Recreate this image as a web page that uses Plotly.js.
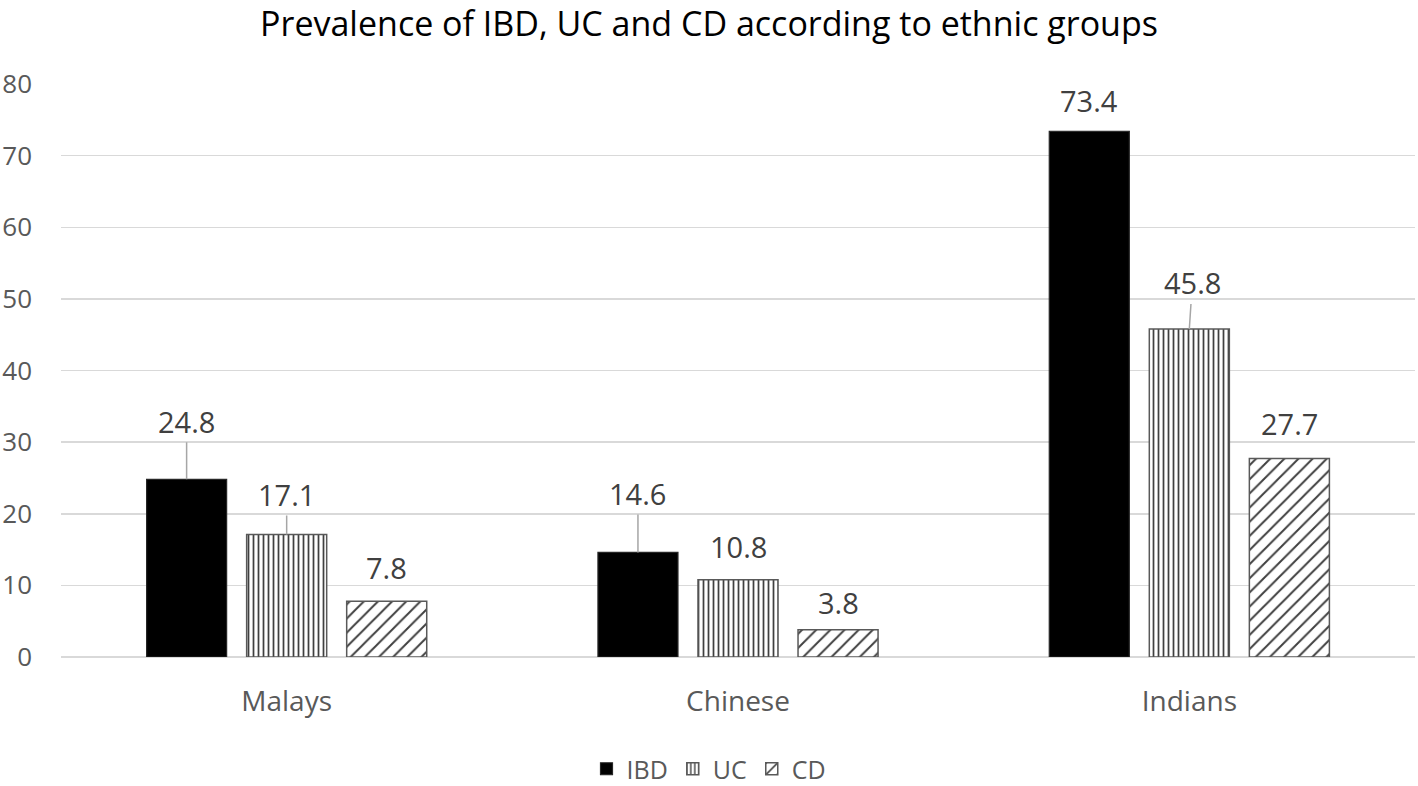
<!DOCTYPE html>
<html>
<head>
<meta charset="utf-8">
<script src="https://cdn.plot.ly/plotly-3.0.1.min.js"></script>
<style>html,body{margin:0;padding:0;background:#fff;}#chart{width:1418px;height:786px;}</style>
</head>
<body>
<div id="chart"></div>
<script>
// ---- data ----
const categories = ['Malays', 'Chinese', 'Indians'];
const seriesNames = ['IBD', 'UC', 'CD'];
const ibdValues = [24.8, 14.6, 73.4];
const ucValues = [17.1, 10.8, 45.8];
const cdValues = [7.8, 3.8, 27.7];
const yTickValues = [0, 10, 20, 30, 40, 50, 60, 70, 80];

// ---- label styling (pixel lift above bar top, leader line on/off) ----
const labelLift = [[58, 59, 31], [40, 33, 46], [34, 27, 35]];
const labelLeader = [[true, true, false], [true, false, true], [false, false, false]];
const labelNudgeX = [[0, 0, 0], [0, 0, 3], [0, 0, 0]];

const bargap = 0.335;
const bargroupgap = 0.2;
const seriesValues = [ibdValues, ucValues, cdValues];

const markers = [
  {color: '#000000', line: {color: '#262626', width: 1.2}},
  {color: '#ffffff', line: {color: '#595959', width: 1.5},
   pattern: {shape: '|', size: 5, solidity: 0.35, fgcolor: '#404040', bgcolor: '#ffffff', fillmode: 'replace'}},
  {color: '#ffffff', line: {color: '#595959', width: 1.5},
   pattern: {shape: '/', size: 10, solidity: 0.2, fgcolor: '#404040', bgcolor: '#ffffff', fillmode: 'replace'}}
];

const traces = seriesNames.map((name, s) => ({
  type: 'bar',
  name: name,
  x: categories,
  y: seriesValues[s],
  marker: markers[s],
  hoverinfo: 'x+y+name'
}));

const slot = (1 - bargap) / seriesNames.length;
const annotations = [];
seriesNames.forEach((name, s) => {
  categories.forEach((c, i) => {
    annotations.push({
      xref: 'x', yref: 'y',
      x: i + (s - (seriesNames.length - 1) / 2) * slot,
      y: seriesValues[s][i],
      text: seriesValues[s][i].toFixed(1),
      showarrow: true,
      arrowhead: 0,
      arrowwidth: 1.5,
      arrowcolor: labelLeader[s][i] ? '#a6a6a6' : 'rgba(0,0,0,0)',
      ax: labelNudgeX[s][i],
      ay: -labelLift[s][i],
      standoff: 0,
      font: {family: 'Open Sans, sans-serif', size: 29, color: '#404040'}
    });
  });
});

const layout = {
  width: 1418,
  height: 786,
  paper_bgcolor: '#ffffff',
  plot_bgcolor: '#ffffff',
  margin: {l: 61, r: 3, t: 84, b: 129},
  title: {
    text: 'Prevalence of IBD, UC and CD according to ethnic groups',
    font: {family: 'Open Sans, sans-serif', size: 34, color: '#000000'},
    x: 0.5, xref: 'container', xanchor: 'center',
    y: 1 - 24 / 786, yref: 'container', yanchor: 'middle'
  },
  barmode: 'group',
  bargap: bargap,
  bargroupgap: bargroupgap,
  showlegend: true,
  legend: {
    orientation: 'h',
    x: 0.5, xref: 'container', xanchor: 'center',
    y: (786 - 769) / 786, yref: 'container', yanchor: 'middle',
    font: {family: 'Open Sans, sans-serif', size: 25, color: '#595959'},
    traceorder: 'normal',
    itemwidth: 30
  },
  xaxis: {
    type: 'category',
    tickfont: {family: 'Open Sans, sans-serif', size: 28, color: '#595959'},
    ticks: '',
    showline: false,
    showgrid: false,
    ticklabelstandoff: 25
  },
  yaxis: {
    range: [0, 80],
    tickvals: yTickValues,
    tickfont: {family: 'Open Sans, sans-serif', size: 26, color: '#595959'},
    gridcolor: '#d9d9d9',
    gridwidth: 1.5,
    zeroline: true,
    zerolinecolor: '#d9d9d9',
    zerolinewidth: 1.5,
    showline: false,
    ticks: '',
    ticklabelstandoff: 28
  },
  annotations: annotations
};

Plotly.newPlot('chart', traces, layout, {displayModeBar: false, staticPlot: true});
</script>
</body>
</html>
